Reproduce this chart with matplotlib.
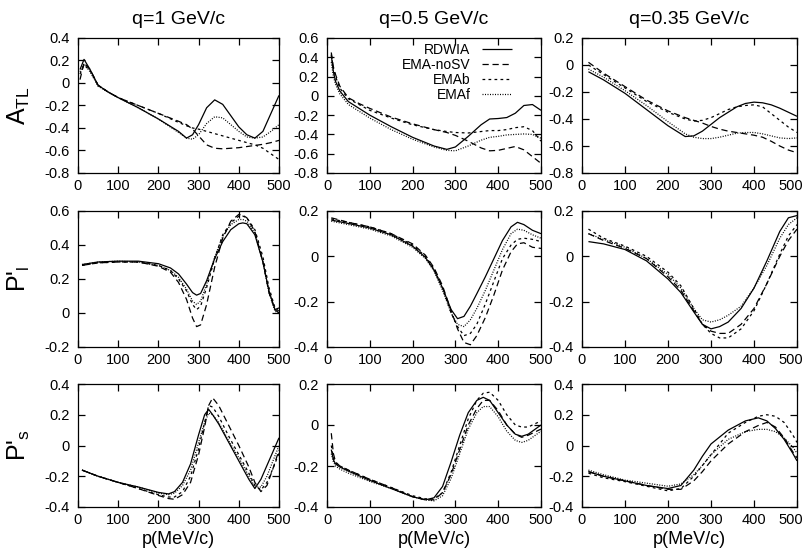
import matplotlib
matplotlib.use("Agg")
import matplotlib.pyplot as plt
import matplotlib.transforms as mtransforms

plt.rcParams['font.family'] = ['Liberation Sans', 'DejaVu Sans']
plt.rcParams['mathtext.fontset'] = 'custom'
plt.rcParams['mathtext.rm'] = 'Liberation Sans'
plt.rcParams['mathtext.it'] = 'Liberation Sans:italic'

# ---- data ----
titles = ["q=1 GeV/c", "q=0.5 GeV/c", "q=0.35 GeV/c"]
row_labels = [r"A$_{\rm TL}$", r"P'$_{\rm l}$", r"P'$_{\rm s}$"]
series_names = ["RDWIA", "EMA-noSV", "EMAb", "EMAf"]

# A_TL, q=1
p_atl_1 = [5, 15, 30, 50, 75, 100, 150, 200, 250, 270, 285, 300, 320, 340, 360, 380, 400, 420, 440, 460, 480, 500]
atl_1_rdwia = [0.12, 0.21, 0.12, -0.02, -0.08, -0.13, -0.22, -0.32, -0.43, -0.49, -0.46, -0.37, -0.22, -0.15, -0.19, -0.29, -0.39, -0.46, -0.49, -0.43, -0.27, -0.11]
atl_1_nosv = [0.03, 0.18, 0.12, -0.02, -0.08, -0.13, -0.20, -0.27, -0.34, -0.37, -0.41, -0.47, -0.55, -0.58, -0.585, -0.58, -0.575, -0.565, -0.555, -0.545, -0.53, -0.51]
atl_1_emab = [0.08, 0.16, 0.11, -0.02, -0.08, -0.13, -0.20, -0.27, -0.35, -0.38, -0.40, -0.41, -0.43, -0.45, -0.47, -0.49, -0.51, -0.53, -0.55, -0.58, -0.63, -0.68]
atl_1_emaf = [0.10, 0.17, 0.10, -0.03, -0.08, -0.13, -0.22, -0.32, -0.44, -0.49, -0.50, -0.46, -0.36, -0.30, -0.31, -0.37, -0.43, -0.48, -0.49, -0.48, -0.43, -0.37]

# A_TL, q=0.5
p_atl_2 = [10, 15, 20, 30, 50, 75, 100, 150, 200, 250, 280, 300, 330, 360, 380, 400, 420, 440, 460, 480, 500]
atl_2_rdwia = [0.42, 0.25, 0.15, 0.05, -0.06, -0.13, -0.20, -0.32, -0.43, -0.52, -0.555, -0.53, -0.42, -0.30, -0.24, -0.235, -0.225, -0.18, -0.10, -0.09, -0.15]
atl_2_nosv = [0.45, 0.30, 0.22, 0.10, -0.02, -0.08, -0.13, -0.22, -0.29, -0.35, -0.38, -0.41, -0.47, -0.54, -0.57, -0.565, -0.545, -0.525, -0.56, -0.63, -0.70]
atl_2_emab = [0.43, 0.28, 0.20, 0.08, -0.03, -0.09, -0.15, -0.23, -0.30, -0.35, -0.37, -0.38, -0.385, -0.37, -0.36, -0.36, -0.35, -0.33, -0.32, -0.36, -0.47]
atl_2_emaf = [0.35, 0.20, 0.12, 0.02, -0.09, -0.16, -0.23, -0.35, -0.45, -0.53, -0.565, -0.57, -0.52, -0.46, -0.43, -0.42, -0.405, -0.40, -0.395, -0.40, -0.44]

# A_TL, q=0.35
p_atl_3 = [15, 50, 100, 150, 200, 240, 260, 280, 300, 320, 340, 360, 380, 400, 420, 440, 460, 480, 500]
atl_3_rdwia = [-0.05, -0.11, -0.21, -0.33, -0.45, -0.53, -0.525, -0.49, -0.44, -0.39, -0.35, -0.31, -0.285, -0.275, -0.28, -0.295, -0.32, -0.35, -0.38]
atl_3_nosv = [0.02, -0.06, -0.16, -0.26, -0.34, -0.39, -0.41, -0.43, -0.455, -0.475, -0.49, -0.50, -0.51, -0.52, -0.535, -0.565, -0.60, -0.63, -0.65]
atl_3_emab = [0.00, -0.07, -0.17, -0.27, -0.35, -0.40, -0.415, -0.41, -0.39, -0.36, -0.33, -0.31, -0.30, -0.295, -0.31, -0.36, -0.41, -0.46, -0.50]
atl_3_emaf = [-0.03, -0.09, -0.19, -0.30, -0.42, -0.51, -0.535, -0.545, -0.545, -0.535, -0.52, -0.505, -0.50, -0.50, -0.51, -0.525, -0.54, -0.545, -0.54]

# P'_l, q=1
p_pl_1 = [10, 50, 100, 150, 200, 230, 250, 270, 285, 295, 305, 320, 340, 360, 380, 400, 410, 420, 440, 460, 475, 490, 500]
pl_1_rdwia = [0.285, 0.30, 0.305, 0.305, 0.29, 0.265, 0.23, 0.17, 0.12, 0.105, 0.115, 0.19, 0.32, 0.42, 0.49, 0.525, 0.53, 0.525, 0.46, 0.30, 0.13, 0.02, 0.00]
pl_1_nosv = [0.28, 0.295, 0.30, 0.30, 0.275, 0.24, 0.18, 0.08, -0.03, -0.08, -0.07, 0.05, 0.27, 0.44, 0.54, 0.58, 0.575, 0.56, 0.48, 0.30, 0.12, 0.02, 0.03]
pl_1_emab = [0.28, 0.295, 0.30, 0.30, 0.28, 0.25, 0.20, 0.13, 0.05, 0.02, 0.04, 0.15, 0.32, 0.46, 0.53, 0.57, 0.57, 0.56, 0.49, 0.33, 0.15, 0.03, 0.01]
pl_1_emaf = [0.285, 0.30, 0.305, 0.30, 0.28, 0.25, 0.21, 0.14, 0.07, 0.05, 0.07, 0.17, 0.33, 0.45, 0.52, 0.55, 0.55, 0.54, 0.47, 0.30, 0.12, 0.01, 0.00]

# P'_l, q=0.5
p_pl_2 = [10, 50, 100, 150, 200, 230, 250, 270, 290, 305, 320, 335, 350, 370, 390, 410, 430, 445, 460, 480, 500]
pl_2_rdwia = [0.16, 0.145, 0.125, 0.095, 0.045, -0.005, -0.06, -0.14, -0.235, -0.275, -0.265, -0.22, -0.165, -0.09, -0.01, 0.07, 0.13, 0.15, 0.14, 0.115, 0.10]
pl_2_nosv = [0.17, 0.15, 0.13, 0.10, 0.055, 0.005, -0.05, -0.13, -0.24, -0.32, -0.38, -0.39, -0.35, -0.27, -0.17, -0.06, 0.02, 0.055, 0.06, 0.04, 0.035]
pl_2_emab = [0.165, 0.15, 0.13, 0.10, 0.05, 0.00, -0.055, -0.14, -0.25, -0.31, -0.35, -0.34, -0.30, -0.21, -0.11, -0.01, 0.05, 0.075, 0.08, 0.075, 0.065]
pl_2_emaf = [0.155, 0.14, 0.12, 0.09, 0.04, -0.01, -0.065, -0.15, -0.25, -0.30, -0.31, -0.28, -0.23, -0.15, -0.06, 0.03, 0.10, 0.12, 0.115, 0.095, 0.08]

# P'_l, q=0.35
p_pl_3 = [15, 50, 100, 150, 200, 230, 260, 280, 300, 320, 340, 370, 400, 430, 460, 480, 500]
pl_3_rdwia = [0.065, 0.055, 0.03, -0.02, -0.10, -0.16, -0.245, -0.30, -0.32, -0.31, -0.29, -0.23, -0.14, -0.02, 0.11, 0.17, 0.18]
pl_3_nosv = [0.10, 0.07, 0.035, -0.01, -0.09, -0.15, -0.24, -0.30, -0.33, -0.34, -0.34, -0.30, -0.23, -0.12, 0.00, 0.07, 0.12]
pl_3_emab = [0.12, 0.08, 0.045, 0.00, -0.07, -0.13, -0.23, -0.30, -0.34, -0.36, -0.36, -0.32, -0.24, -0.12, 0.01, 0.09, 0.14]
pl_3_emaf = [0.10, 0.075, 0.04, -0.01, -0.08, -0.14, -0.23, -0.28, -0.29, -0.28, -0.26, -0.22, -0.14, -0.04, 0.08, 0.14, 0.17]

# P'_s, q=1
p_ps_1 = [10, 50, 100, 150, 200, 225, 240, 260, 280, 300, 315, 325, 335, 350, 375, 400, 425, 440, 455, 470, 485, 500]
ps_1_rdwia = [-0.16, -0.20, -0.24, -0.27, -0.305, -0.315, -0.30, -0.24, -0.12, 0.07, 0.20, 0.235, 0.20, 0.14, 0.02, -0.10, -0.22, -0.28, -0.22, -0.13, -0.04, 0.05]
ps_1_nosv = [-0.16, -0.20, -0.24, -0.28, -0.325, -0.345, -0.35, -0.32, -0.24, -0.06, 0.12, 0.26, 0.31, 0.26, 0.13, 0.00, -0.14, -0.24, -0.30, -0.26, -0.15, -0.03]
ps_1_emab = [-0.16, -0.20, -0.24, -0.28, -0.32, -0.335, -0.335, -0.30, -0.20, -0.02, 0.15, 0.26, 0.25, 0.19, 0.06, -0.06, -0.18, -0.26, -0.29, -0.24, -0.15, -0.05]
ps_1_emaf = [-0.16, -0.20, -0.24, -0.27, -0.31, -0.32, -0.31, -0.26, -0.16, 0.02, 0.15, 0.21, 0.20, 0.15, 0.03, -0.08, -0.20, -0.27, -0.27, -0.20, -0.10, 0.00]

# P'_s, q=0.5
p_ps_2 = [10, 15, 20, 30, 50, 100, 150, 200, 230, 250, 270, 290, 310, 330, 350, 365, 380, 400, 420, 440, 455, 470, 500]
ps_2_rdwia = [-0.12, -0.17, -0.19, -0.205, -0.225, -0.27, -0.31, -0.35, -0.365, -0.355, -0.30, -0.18, -0.05, 0.06, 0.12, 0.135, 0.12, 0.06, 0.00, -0.045, -0.055, -0.045, 0.00]
ps_2_nosv = [-0.04, -0.14, -0.18, -0.20, -0.22, -0.265, -0.305, -0.35, -0.365, -0.365, -0.33, -0.24, -0.12, 0.00, 0.08, 0.12, 0.12, 0.07, 0.00, -0.045, -0.06, -0.05, -0.02]
ps_2_emab = [-0.10, -0.16, -0.185, -0.20, -0.22, -0.265, -0.305, -0.345, -0.36, -0.36, -0.33, -0.23, -0.10, 0.03, 0.12, 0.155, 0.16, 0.12, 0.05, 0.00, -0.01, -0.01, 0.02]
ps_2_emaf = [-0.14, -0.18, -0.20, -0.215, -0.235, -0.275, -0.31, -0.35, -0.365, -0.37, -0.345, -0.26, -0.14, -0.02, 0.06, 0.09, 0.09, 0.04, -0.03, -0.075, -0.085, -0.075, -0.03]

# P'_s, q=0.35
p_ps_3 = [15, 50, 100, 150, 200, 230, 260, 280, 300, 340, 380, 410, 430, 450, 470, 490, 500]
ps_3_rdwia = [-0.17, -0.20, -0.23, -0.26, -0.28, -0.26, -0.16, -0.07, 0.01, 0.10, 0.16, 0.18, 0.16, 0.11, 0.04, -0.05, -0.10]
ps_3_nosv = [-0.17, -0.20, -0.23, -0.26, -0.285, -0.285, -0.23, -0.17, -0.10, 0.01, 0.09, 0.13, 0.15, 0.12, 0.05, -0.04, -0.08]
ps_3_emab = [-0.18, -0.21, -0.235, -0.265, -0.295, -0.28, -0.20, -0.13, -0.06, 0.08, 0.15, 0.19, 0.20, 0.19, 0.15, 0.07, 0.02]
ps_3_emaf = [-0.16, -0.19, -0.225, -0.245, -0.265, -0.25, -0.19, -0.13, -0.06, 0.04, 0.09, 0.105, 0.105, 0.09, 0.05, -0.01, -0.05]

y_limits = [[(-0.8, 0.4), (-0.8, 0.6), (-0.8, 0.2)],
            [(-0.2, 0.6), (-0.4, 0.2), (-0.4, 0.2)],
            [(-0.4, 0.4), (-0.4, 0.2), (-0.4, 0.4)]]

panels = [
    [(p_atl_1, [atl_1_rdwia, atl_1_nosv, atl_1_emab, atl_1_emaf]),
     (p_atl_2, [atl_2_rdwia, atl_2_nosv, atl_2_emab, atl_2_emaf]),
     (p_atl_3, [atl_3_rdwia, atl_3_nosv, atl_3_emab, atl_3_emaf])],
    [(p_pl_1, [pl_1_rdwia, pl_1_nosv, pl_1_emab, pl_1_emaf]),
     (p_pl_2, [pl_2_rdwia, pl_2_nosv, pl_2_emab, pl_2_emaf]),
     (p_pl_3, [pl_3_rdwia, pl_3_nosv, pl_3_emab, pl_3_emaf])],
    [(p_ps_1, [ps_1_rdwia, ps_1_nosv, ps_1_emab, ps_1_emaf]),
     (p_ps_2, [ps_2_rdwia, ps_2_nosv, ps_2_emab, ps_2_emaf]),
     (p_ps_3, [ps_3_rdwia, ps_3_nosv, ps_3_emab, ps_3_emaf])],
]

# ---- layout (pixels in a 806x559 canvas) ----
W, H = 806, 559
col_px = [(78, 279), (327, 541), (582, 797)]
row_px = [(38, 173), (211, 347), (384, 507)]
styles = [(0, ()), (0, (5, 3)), (0, (2.2, 2.6)), (0, (0.8, 1.2))]

fig = plt.figure(figsize=(W / 100, H / 100), dpi=100)

for r in range(3):
    for c in range(3):
        x0, x1 = col_px[c]
        y0, y1 = row_px[r]
        ax = fig.add_axes([x0 / W, 1 - y1 / H, (x1 - x0) / W, (y1 - y0) / H])
        p, curves = panels[r][c]
        for name, vals, ls in zip(series_names, curves, styles):
            ax.plot(p, vals, color='black', lw=0.9, linestyle=ls, label=name)
        ax.set_xlim(0, 500)
        lo, hi = y_limits[r][c]
        ax.set_ylim(lo, hi)
        ax.set_xticks(range(0, 501, 100))
        nt = int(round((hi - lo) / 0.2))
        yt = [round(lo + 0.2 * k, 1) for k in range(nt + 1)]
        ax.set_yticks(yt)
        ax.set_yticklabels(['0' if abs(v) < 1e-9 else '%g' % v for v in yt])
        ax.tick_params(direction='in', top=True, right=True, length=5, width=0.9,
                       labelsize=10.5, colors='black')
        ax.tick_params(axis='y', pad=6)
        ax.tick_params(axis='x', pad=4)
        for s in ax.spines.values():
            s.set_linewidth(0.9)
        if c == 2:
            # last label sits at the image edge; nudge it inward
            lab = ax.get_xticklabels()[-1]
            lab.set_transform(lab.get_transform() +
                              mtransforms.ScaledTranslation(-6 / 100, 0, fig.dpi_scale_trans))
        if r == 0:
            ax.set_title(titles[c], fontsize=14, pad=10)
        if r == 2:
            ax.set_xlabel("p(MeV/c)", fontsize=13, labelpad=3)
        if r == 0 and c == 1:
            ax.legend(loc='upper right', bbox_to_anchor=(0.865, 0.965), frameon=False,
                      markerfirst=False, fontsize=10, handlelength=2.2,
                      handletextpad=0.8, labelspacing=0.08, borderpad=0,
                      borderaxespad=0)

for r in range(3):
    yc = 1 - (row_px[r][0] + row_px[r][1]) / 2 / H
    fig.text(19 / W, yc, row_labels[r], rotation=90, fontsize=18,
             ha='center', va='center')

fig.savefig("out.png", dpi=100)
